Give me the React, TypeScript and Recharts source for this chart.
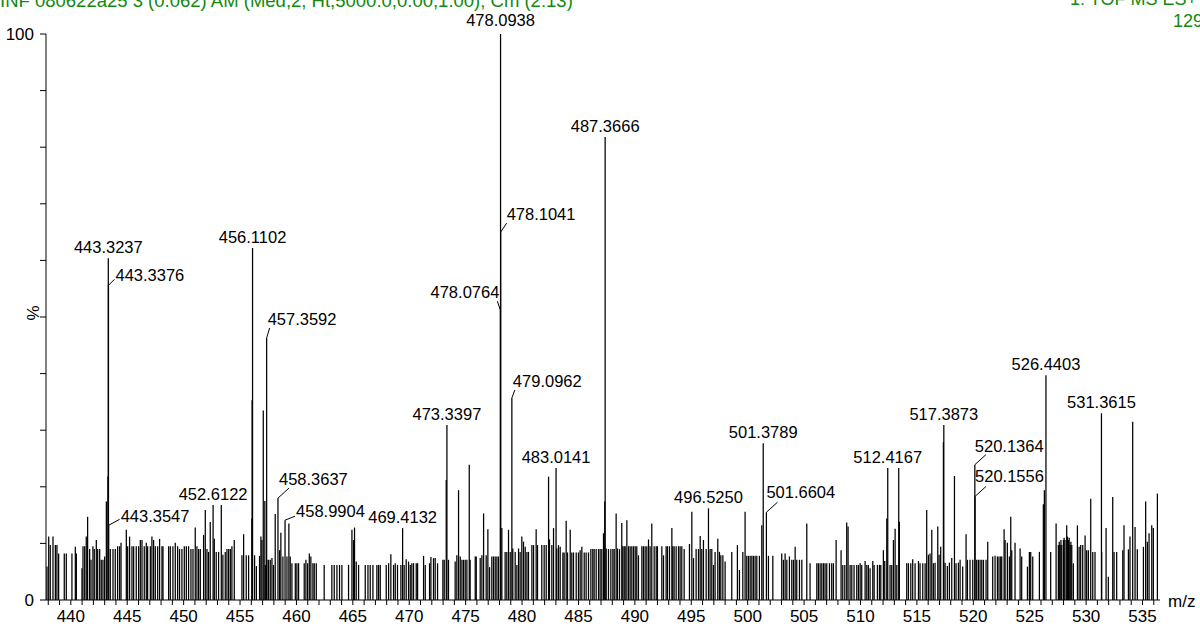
import React from 'react';
import { ComposedChart, Bar, Scatter, XAxis, YAxis } from 'recharts';

// Spectrum peaks: [m/z, relative intensity %]
const peaks437to455: [number, number][] = [
  [437.89, 5.9], [438.04, 11.2], [438.18, 9.7], [438.42, 11.2], [438.63, 9.7], [438.77, 9.7], [438.92, 8.2],
  [439.42, 8.2], [439.6, 8.2], [440.1, 8.2], [440.4, 9.4], [440.49, 8.2],
  [440.99, 5.6], [441.08, 9.5], [441.23, 9.5], [441.37, 11.2], [441.49, 14.7], [441.67, 9.0], [441.79, 7.1],
  [441.96, 9.5], [442.08, 9.0], [442.26, 10.6], [442.38, 9.0], [442.56, 9.0], [442.7, 7.1], [442.85, 7.1],
  [443.0, 7.7], [443.15, 17.4], [443.29, 21.8], [443.3237, 60.4], [443.3376, 55.6], [443.3547, 13.2],
  [443.5, 9.0], [443.74, 9.0], [443.94, 9.0], [444.15, 9.5], [444.33, 9.5], [444.45, 10.1], [444.92, 12.4],
  [445.04, 9.5], [445.21, 11.2], [445.42, 9.5], [445.57, 9.5], [445.8, 9.5], [446.01, 9.5], [446.16, 10.6],
  [446.31, 10.6], [446.51, 9.5], [446.69, 10.1], [446.81, 9.5], [447.05, 9.5], [447.19, 11.2], [447.34, 10.6],
  [447.49, 9.5], [447.7, 9.5], [447.87, 10.8], [448.08, 9.5], [448.17, 9.5], [448.67, 9.5], [448.82, 9.5],
  [449.05, 9.5], [449.26, 10.1], [449.47, 9.5], [449.64, 9.0], [449.85, 9.0], [450.06, 9.5], [450.24, 9.5],
  [450.44, 9.5], [450.65, 9.0], [450.83, 9.0], [451.03, 12.8], [451.18, 9.5], [451.33, 9.0], [451.48, 9.0],
  [451.77, 11.5], [451.92, 15.9], [452.07, 9.0], [452.21, 8.5], [452.36, 13.8], [452.6122, 16.8], [452.72, 10.8],
  [452.89, 8.5], [453.1, 8.5], [453.34, 16.8], [453.48, 8.0], [453.69, 8.5], [453.84, 9.0], [453.99, 9.0],
  [454.14, 9.0], [454.28, 9.5], [454.49, 10.6],
];

const peaks455to472: [number, number][] = [
  [455.17, 7.9], [455.32, 11.6], [455.55, 7.9], [455.76, 7.9], [456.05, 14.4], [456.07, 35.3], [456.1102, 62.2],
  [456.29, 7.9], [456.45, 6.0], [456.73, 7.8], [456.85, 11.2], [456.94, 10.6], [457.06, 33.5], [457.2, 17.5],
  [457.24, 6.2], [457.3592, 46.3], [457.38, 7.1], [457.53, 7.1], [457.68, 7.1], [457.83, 7.4], [457.97, 6.2],
  [458.12, 15.2], [458.3637, 18.0], [458.51, 8.8], [458.62, 11.9], [458.8, 7.7], [458.9904, 14.1], [459.16, 7.7],
  [459.33, 13.5], [459.45, 7.7], [459.6, 6.5], [459.9, 6.5], [460.04, 6.5], [460.19, 6.5], [460.69, 6.5],
  [460.84, 7.1], [460.99, 6.5], [461.14, 8.2], [461.28, 7.7], [461.46, 6.5], [461.58, 6.5], [461.76, 6.5],
  [462.46, 6.2], [463.14, 6.2], [463.35, 6.2], [463.59, 6.2], [463.82, 6.2], [464.03, 6.2], [464.62, 6.2],
  [464.92, 12.4], [465.06, 10.6], [465.15, 12.8], [465.3, 6.8], [465.51, 6.2], [466.1, 6.2], [466.34, 6.2],
  [466.54, 6.2], [466.78, 6.2], [467.13, 6.2], [467.28, 6.2], [467.43, 6.2], [467.96, 6.2], [468.17, 6.5],
  [468.37, 8.1], [468.61, 6.2], [468.76, 6.5], [468.96, 6.2], [469.26, 6.2], [469.4132, 12.7], [469.55, 6.2],
  [469.73, 7.2], [469.94, 6.8], [470.09, 6.2], [470.23, 6.5], [470.38, 6.5], [470.62, 6.5], [470.74, 6.5],
  [471.27, 7.8], [471.42, 6.2], [471.8, 6.5], [471.92, 7.6], [472.15, 7.4], [472.3, 7.4], [472.51, 6.5],
];

const peaks472to490: [number, number][] = [
  [472.98, 7.1], [473.1, 7.1], [473.28, 21.2], [473.3397, 30.9], [473.48, 7.1], [474.07, 6.8], [474.22, 7.9],
  [474.37, 19.4], [474.52, 7.7], [474.67, 7.1], [474.81, 7.1], [474.96, 7.1], [475.11, 7.1], [475.32, 23.9],
  [475.4, 7.1], [475.85, 7.7], [475.94, 7.7], [476.29, 7.4], [476.44, 7.9], [476.59, 15.3], [476.82, 7.9],
  [476.97, 12.5], [477.12, 5.8], [477.32, 7.7], [477.47, 7.7], [477.62, 7.7], [477.77, 7.7], [477.91, 7.7],
  [478.0764, 51.2], [478.0938, 100], [478.1041, 65.0], [478.21, 12.7], [478.5, 8.5], [478.65, 8.5],
  [478.8, 12.4], [478.95, 8.5], [479.0962, 35.7], [479.18, 9.1], [479.39, 8.5], [479.54, 6.2], [479.69, 9.1],
  [479.83, 8.5], [479.98, 11.2], [480.13, 10.3], [480.28, 9.4], [480.43, 8.5], [480.57, 8.5], [480.87, 9.7],
  [481.02, 9.7], [481.25, 12.5], [481.37, 9.7], [481.75, 9.7], [481.96, 9.7], [482.14, 9.7], [482.35, 21.8],
  [482.43, 10.7], [482.64, 9.7], [482.79, 12.7], [483.0141, 23.3], [483.08, 9.1], [483.23, 9.7], [483.38, 9.4],
  [483.62, 8.4], [483.73, 8.4], [483.91, 14.0], [484.03, 8.4], [484.27, 12.4], [484.41, 8.4], [484.56, 8.4],
  [484.8, 8.4], [485.0, 8.4], [485.15, 8.8], [485.3, 9.4], [485.51, 8.4], [485.68, 8.4], [485.89, 8.4],
  [486.1, 9.0], [486.27, 9.0], [486.39, 9.0], [486.57, 9.0], [486.78, 9.0], [486.92, 9.0], [487.07, 9.0],
  [487.22, 11.8], [487.33, 17.4], [487.3666, 81.8], [487.46, 9.1], [487.66, 9.0], [487.87, 9.0], [488.05, 9.0],
  [488.17, 9.0], [488.34, 15.3], [488.46, 9.1], [488.64, 9.0], [488.84, 13.6], [488.93, 9.5], [489.05, 9.5],
  [489.14, 9.5], [489.29, 14.1], [489.44, 9.5], [489.58, 9.5], [489.73, 9.5], [489.88, 9.5], [490.03, 9.5],
  [490.17, 9.5], [490.32, 7.9],
];

const peaks490to508: [number, number][] = [
  [490.62, 9.5], [490.76, 9.5], [490.91, 9.5], [491.06, 9.5], [491.21, 10.7], [491.35, 9.5], [491.5, 13.5],
  [491.71, 9.5], [491.89, 9.5], [492.0, 9.5], [492.39, 9.5], [492.54, 7.9], [492.77, 9.5], [492.89, 9.5],
  [493.07, 9.5], [493.28, 12.7], [493.36, 9.5], [493.48, 9.5], [493.66, 9.5], [493.87, 9.5], [494.01, 9.5],
  [494.16, 9.5], [494.37, 9.0], [494.84, 9.9], [495.05, 15.6], [495.2, 7.4], [495.43, 9.0], [495.64, 9.0],
  [495.79, 11.3], [495.93, 9.0], [496.08, 10.6], [496.32, 9.0], [496.525, 16.2], [496.67, 9.0], [496.82, 9.0],
  [496.97, 6.2], [497.11, 8.5], [497.35, 10.8], [497.5, 8.5], [497.62, 7.9], [497.8, 7.9], [498.0, 6.8],
  [498.59, 8.5], [499.09, 9.7], [499.27, 5.3], [499.57, 8.5], [499.77, 15.6], [499.92, 7.8], [500.07, 7.8],
  [500.22, 7.8], [500.37, 7.8], [500.51, 7.8], [500.66, 7.8], [500.81, 7.8], [501.04, 7.8], [501.25, 13.2],
  [501.3789, 27.7], [501.6604, 15.5], [501.84, 7.8], [502.23, 7.8], [503.02, 8.2], [503.17, 7.1], [503.32, 8.2],
  [503.47, 7.1], [503.7, 7.7], [503.91, 7.1], [504.06, 7.1], [504.21, 9.4], [504.35, 7.1], [504.59, 7.1],
  [504.8, 7.1], [505.24, 13.5], [505.53, 6.5], [506.13, 6.5], [506.27, 6.5], [506.42, 6.5], [506.57, 6.5],
  [506.72, 6.5], [506.86, 6.5], [507.01, 6.5], [507.25, 6.5], [507.45, 6.5], [507.6, 6.5], [507.84, 10.6],
];

const peaks508to522: [number, number][] = [
  [508.28, 8.8], [508.43, 6.2], [508.61, 6.2], [508.78, 13.7], [508.9, 13.0], [509.08, 6.2], [509.23, 6.2],
  [509.43, 6.2], [509.67, 6.2], [509.82, 6.2], [509.97, 6.5], [510.11, 6.2], [510.41, 6.9], [510.56, 6.2],
  [510.7, 6.2], [510.85, 5.6], [511.09, 6.9], [511.21, 6.2], [511.5, 6.2], [511.68, 6.2], [511.8, 6.2],
  [512.03, 8.8], [512.15, 6.9], [512.33, 14.4], [512.4167, 23.3], [512.62, 6.2], [512.77, 6.2], [512.92, 10.6],
  [513.07, 12.6], [513.22, 6.2], [513.39, 23.3], [513.45, 13.8], [514.1, 6.5], [514.25, 6.5], [514.46, 6.5],
  [514.63, 7.2], [514.84, 6.5], [515.14, 6.9], [515.28, 6.5], [515.52, 6.5], [515.73, 6.5], [515.87, 15.9],
  [516.02, 8.0], [516.17, 8.2], [516.32, 12.4], [516.46, 6.5], [516.61, 6.6], [516.85, 13.0], [516.97, 8.0],
  [517.11, 9.4], [517.35, 27.9], [517.3873, 30.9], [517.5, 6.6], [517.7, 6.0], [517.88, 6.6], [518.09, 7.4],
  [518.33, 21.9], [518.47, 6.5], [518.68, 6.6], [518.83, 7.1], [519.06, 5.9], [519.36, 11.6], [519.48, 7.1],
  [519.71, 7.1], [519.95, 7.1], [520.1364, 23.9], [520.1556, 18.3], [520.3, 7.1], [520.45, 7.1], [520.6, 7.1],
  [520.75, 7.1], [520.9, 7.1], [521.13, 7.1], [521.28, 10.3], [521.72, 7.7], [521.93, 7.8], [522.14, 7.7],
  [522.28, 7.7], [522.43, 7.7],
];

const peaks522to537: [number, number][] = [
  [522.52, 7.7], [522.73, 12.5], [522.82, 10.6], [523.02, 10.1], [523.2, 7.7], [523.32, 14.7], [523.41, 8.8],
  [523.7, 10.1], [524.15, 9.1], [524.29, 7.7], [524.8, 5.9], [524.97, 8.5], [525.09, 8.5], [525.27, 7.7],
  [525.86, 8.5], [526.21, 16.9], [526.3, 19.4], [526.4403, 39.7], [526.86, 8.5], [527.34, 13.5], [527.54, 9.7],
  [527.62, 10.3], [527.69, 9.7], [527.77, 10.6], [527.84, 9.7], [527.99, 10.6], [528.05, 11.0], [528.13, 10.6],
  [528.28, 13.2], [528.35, 11.2], [528.43, 10.6], [528.5, 11.0], [528.58, 9.7], [528.65, 10.3], [528.73, 9.7],
  [528.87, 6.5], [529.23, 13.2], [529.38, 9.4], [529.52, 9.7], [529.7, 9.7], [529.91, 11.4], [530.05, 8.8],
  [530.2, 8.8], [530.41, 17.9], [530.59, 8.5], [530.79, 8.5], [531.3615, 33.0], [531.38, 8.5], [531.77, 12.7],
  [531.97, 4.1], [532.36, 18.2], [532.48, 8.5], [532.71, 8.5], [533.25, 8.8], [533.36, 13.2], [533.75, 8.95],
  [533.89, 11.2], [534.13, 31.5], [534.34, 12.9], [534.54, 8.95], [535.08, 9.4], [535.28, 17.4], [535.43, 10.3],
  [535.58, 11.8], [535.82, 13.2], [535.96, 12.7], [536.32, 18.8],
];

// Annotated peaks (m/z values printed above their sticks)
const labelledMz: number[] = [
  443.3237, 443.3376, 443.3547, 452.6122, 456.1102, 457.3592, 458.3637, 458.9904, 469.4132, 473.3397,
  478.0764, 478.0938, 478.1041, 479.0962, 483.0141, 487.3666, 496.525, 501.3789, 501.6604, 512.4167,
  517.3873, 520.1364, 520.1556, 526.4403, 531.3615,
];

const xTickLabels: number[] = [440, 445, 450, 455, 460, 465, 470, 475, 480, 485, 490, 495, 500, 505, 510, 515, 520, 525, 530, 535];
const yTicks: number[] = [0, 10, 20, 30, 40, 50, 60, 70, 80, 90, 100];
const yTickLabels: number[] = [0, 100];

const headerLeft = 'INF 080622a25 3 (0.062) AM (Med,2, Ht,5000.0,0.00,1.00); Cm (2:13)';
const headerRight1 = '1: TOF MS ES+';
const headerRight2 = '129';

const allPeaks = [
  ...peaks437to455, ...peaks455to472, ...peaks472to490,
  ...peaks490to508, ...peaks508to522, ...peaks522to537,
];
const tableData = allPeaks.map(([mz, intensity]) => ({ mz, intensity }));
const labelData = labelledMz.map((mz) => {
  const p = allPeaks.find(([m]) => Math.abs(m - mz) < 1e-6);
  return { mz, intensity: p ? p[1] : 0, text: mz.toFixed(4) };
});

const xTicks: number[] = [];
for (let v = 438; v <= 536; v++) xTicks.push(v);

type Layout = { anchor: 'start' | 'middle' | 'end'; tx: number; ty: number; line?: [number, number] };
const defaultLayout: Layout = { anchor: 'middle', tx: 0, ty: -5 };
const labelLayout: Record<string, Layout> = {
  '478.0938': { anchor: 'middle', tx: 0, ty: -8 },
  '443.3376': { anchor: 'start', tx: 7, ty: -4, line: [6, -6] },
  '443.3547': { anchor: 'start', tx: 12, ty: -3, line: [11, -6] },
  '457.3592': { anchor: 'start', tx: 1, ty: -13, line: [3, -10] },
  '458.3637': { anchor: 'start', tx: 1, ty: -13, line: [11, -10] },
  '458.9904': { anchor: 'start', tx: 11, ty: -3, line: [10, -4] },
  '478.0764': { anchor: 'end', tx: -1, ty: -12, line: [-3, -9] },
  '478.1041': { anchor: 'start', tx: 6, ty: -12, line: [6, -9] },
  '479.0962': { anchor: 'start', tx: 1, ty: -11, line: [3, -8] },
  '501.6604': { anchor: 'start', tx: 0, ty: -14, line: [11, -10] },
  '520.1364': { anchor: 'start', tx: 0, ty: -13, line: [11, -10] },
  '520.1556': { anchor: 'start', tx: 0, ty: -14, line: [11, -10] },
};

const FONT = '"Liberation Sans", Arial, Helvetica, sans-serif';
const GREEN = '#108a10';

const PeakLabel = (props: any) => {
  const { cx, cy, payload } = props;
  if (cx == null || cy == null) return <g />;
  const text: string = payload.text;
  const lay = labelLayout[text] || defaultLayout;
  return (
    <g>
      {lay.line && (
        <line x1={cx} y1={cy} x2={cx + lay.line[0]} y2={cy + lay.line[1]} stroke="#000" strokeWidth={1} />
      )}
      <text x={cx + lay.tx} y={cy + lay.ty} textAnchor={lay.anchor} fontSize={16.5} fontFamily={FONT} fill="#000">
        {text}
      </text>
    </g>
  );
};

const Stick = (props: any) => {
  const { x, y, width, height } = props;
  if (x == null || y == null || !height) return <g />;
  const cx = x + width / 2;
  return <line x1={cx} y1={y} x2={cx} y2={y + height} stroke="#000" strokeWidth={1.25} />;
};

export default function App() {
  return (
    <div style={{ position: 'absolute', left: 0, top: 0, width: 1200, height: 628, overflow: 'hidden', background: '#fff' }}>
      <ComposedChart
        width={1200}
        height={628}
        data={tableData}
        margin={{ top: 34, right: 40, bottom: 0, left: 0 }}
        barGap={0}
        barCategoryGap={0}
      >
        <XAxis
          dataKey="mz"
          type="number"
          domain={[437.8, 536.55]}
          ticks={xTicks}
          interval={0}
          tickFormatter={(v: number) => (xTickLabels.includes(v) ? String(v) : '')}
          tickSize={5}
          tickMargin={5}
          height={28}
          axisLine={{ stroke: '#000', strokeWidth: 1 }}
          tickLine={{ stroke: '#000', strokeWidth: 1 }}
          tick={{ fill: '#000', fontSize: 17, fontFamily: FONT }}
        />
        <YAxis
          type="number"
          domain={[0, 100]}
          ticks={yTicks}
          interval={0}
          tickFormatter={(v: number) => (yTickLabels.includes(v) ? String(v) : '')}
          width={46}
          tickSize={6}
          tickMargin={6}
          axisLine={{ stroke: '#000', strokeWidth: 1 }}
          tickLine={{ stroke: '#000', strokeWidth: 1 }}
          tick={{ fill: '#000', fontSize: 17, fontFamily: FONT }}
        />
        <Bar dataKey="intensity" fill="#000" barSize={1} shape={Stick} isAnimationActive={false} />
        <Scatter data={labelData} dataKey="intensity" shape={PeakLabel} isAnimationActive={false} />
      </ComposedChart>
      <svg width={1200} height={628} style={{ position: 'absolute', left: 0, top: 0, pointerEvents: 'none' }}>
        <text x={0} y={7} fontSize={18.5} fontFamily={FONT} fill={GREEN}>{headerLeft}</text>
        <text x={1197} y={5} textAnchor="end" fontSize={18} fontFamily={FONT} fill={GREEN}>{headerRight1}</text>
        <text x={1173} y={27} fontSize={18} fontFamily={FONT} fill={GREEN}>{headerRight2}</text>
        <text x={39} y={313} transform="rotate(-90, 39, 313)" textAnchor="middle" fontSize={17} fontFamily={FONT} fill="#000">%</text>
        <text x={1168} y={607} fontSize={17} fontFamily={FONT} fill="#000">m/z</text>
      </svg>
    </div>
  );
}
